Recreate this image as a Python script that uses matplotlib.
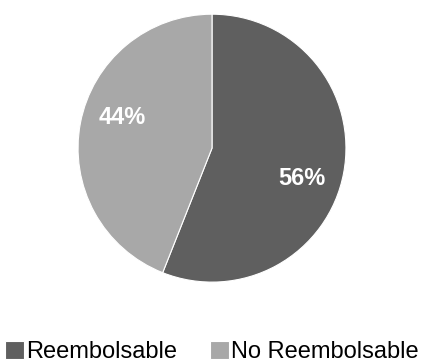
import numpy as np
import matplotlib.pyplot as plt

# datos
labels = ['Reembolsable', 'No Reembolsable']
values = [56, 44]
colors = ['#5f5f5f', '#a8a8a8']

plt.rcParams['font.family'] = ['Liberation Sans', 'DejaVu Sans']

fig = plt.figure(figsize=(4.24, 3.64), dpi=100)
ax = fig.add_axes([0.184, 0.225, 0.632, 0.736])

wedges, texts, autotexts = ax.pie(
    values, colors=colors, startangle=90, counterclock=False,
    autopct='%1.0f%%', pctdistance=0.7,
    wedgeprops=dict(edgecolor='white', linewidth=0.8),
    textprops=dict(color='white', fontsize=17, fontweight='bold'))
ax.set_aspect('equal')
ax.set_xlim(-1, 1)
ax.set_ylim(-1, 1)

# etiquetas un poco giradas en sentido horario, como en el original
for w, t in zip(wedges, autotexts):
    ang = np.deg2rad((w.theta1 + w.theta2) / 2 - 8)
    t.set_position((0.71 * np.cos(ang), 0.71 * np.sin(ang)))

fig.legend(wedges, labels, loc='lower center', bbox_to_anchor=(0.5, -0.055),
           ncol=2, frameon=False, fontsize=17, handlelength=0.8,
           handleheight=0.8, handletextpad=0.1, columnspacing=1.4)

fig.savefig('out.png', dpi=100)
